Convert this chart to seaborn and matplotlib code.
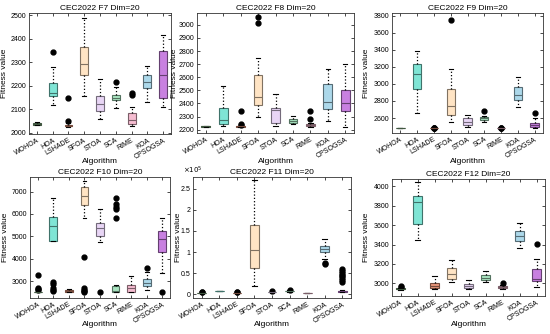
import matplotlib
matplotlib.use("Agg")
import matplotlib.pyplot as plt
import seaborn as sns
import pandas as pd
from matplotlib.colors import to_rgb
from matplotlib.ticker import FuncFormatter

plt.rcParams['font.family'] = ['Liberation Sans', 'DejaVu Sans']

algorithms = ['WOHOA', 'HOA', 'LSHADE', 'SFOA', 'STOA', 'SCA', 'RIME', 'KOA', 'CPSOGSA']
box_colors = ['#7fae7f', '#7fe5d5', '#e9967a', '#ffe4c4', '#e8d5f5',
              '#a8e4c0', '#f5bcd0', '#acd8ea', '#c880e0']

# run results per algorithm (same order as algorithms)
f7 = [
    [2032, 2034, 2035, 2037, 2038, 2040, 2042, 2043, 2045],
    [2120, 2140, 2155, 2162, 2170, 2190, 2210, 2280, 2345],
    [2025, 2026, 2027, 2028, 2029, 2029, 2030, 2032, 2033, 2035, 2040, 2050, 2148],
    [2155, 2200, 2245, 2270, 2292, 2330, 2365, 2420, 2490],
    [2060, 2075, 2092, 2110, 2122, 2140, 2155, 2190, 2228],
    [2105, 2125, 2138, 2145, 2150, 2156, 2163, 2195, 2218],
    [2028, 2033, 2036, 2038, 2045, 2050, 2055, 2065, 2075, 2085, 2108, 2163, 2170],
    [2132, 2170, 2192, 2205, 2215, 2230, 2245, 2265, 2285],
    [2108, 2125, 2148, 2200, 2245, 2300, 2348, 2380, 2415],
]
f8 = [
    [2221, 2222, 2223, 2224, 2225, 2226, 2227, 2228, 2229],
    [2232, 2236, 2240, 2255, 2272, 2320, 2365, 2450, 2530],
    [2219, 2220, 2220, 2221, 2222, 2222, 2223, 2224, 2225, 2226, 2226, 2227, 2228,
     2230, 2238, 2246, 2342],
    [2295, 2330, 2360, 2385, 2410, 2430, 2452, 2500, 2560, 2620, 2750, 3010, 3060],
    [2230, 2240, 2250, 2300, 2350, 2356, 2362, 2420, 2475],
    [2240, 2248, 2255, 2262, 2268, 2275, 2282, 2295, 2305],
    [2222, 2225, 2226, 2228, 2230, 2233, 2235, 2237, 2240, 2242, 2248, 2285, 2345],
    [2265, 2320, 2355, 2380, 2410, 2480, 2545, 2600, 2660],
    [2222, 2290, 2340, 2370, 2405, 2450, 2500, 2600, 2700],
]
f9 = [
    [2480.76, 2480.77, 2480.78, 2480.79, 2480.8, 2480.81, 2480.82, 2480.83, 2480.84],
    [2660, 2800, 2940, 3040, 3115, 3180, 3230, 3300, 3385],
    [2480.7, 2480.7, 2480.8, 2480.8, 2480.8, 2480.8, 2480.8, 2483, 2486],
    [2548, 2600, 2640, 2690, 2740, 2850, 2945, 3170, 3745],
    [2490, 2505, 2520, 2540, 2555, 2580, 2600, 2620, 2640],
    [2555, 2570, 2580, 2590, 2598, 2605, 2615, 2625, 2685],
    [2480.7, 2480.8, 2480.8, 2480.8, 2480.8, 2480.8, 2480.8, 2480.9, 2484],
    [2735, 2780, 2815, 2840, 2865, 2910, 2960, 3020, 3075],
    [2485, 2490, 2495, 2505, 2520, 2530, 2545, 2605, 2655],
]
f10 = [
    [2500.3, 2500.3, 2500.4, 2500.4, 2500.5, 2500.5, 2500.6, 2500.7, 2500.8, 2501, 2501,
     2501, 2502, 2620, 2660, 2710, 3270],
    [2560, 2620, 2680, 2880, 2960, 4780, 4800, 4900, 5050, 5200, 5300, 5400, 5470,
     5550, 5650, 5750, 5800, 5850, 5870, 5950, 6100, 6250, 6400, 6550, 6700],
    [2500, 2510, 2520, 2540, 2555, 2570, 2590, 2620, 2650],
    [2520, 2560, 2620, 2700, 4100, 5800, 6380, 6450, 6520, 6600, 6680, 6730, 6780,
     6850, 6950, 7050, 7120, 7180, 7200, 7250, 7300, 7350, 7400, 7430, 7450],
    [2520, 4750, 5030, 5200, 5380, 5500, 5580, 5900, 6230],
    [2500, 2501, 2502, 2503, 2504, 2505, 2506, 2510, 2515, 2520, 2530, 2540, 2560,
     2600, 2650, 2700, 2750, 2780, 2800, 2810, 5800, 6200, 6300, 6450, 6700],
    [2500, 2520, 2540, 2620, 2700, 2780, 2850, 3050, 3250],
    [2600, 2700, 2800, 2870, 2920, 3000, 3080, 3400, 3600],
    [2520, 3350, 4300, 4600, 4900, 5100, 5250, 5500, 5800],
]
f11 = [
    [2900, 2930, 2950, 2980, 3000, 3100, 3300, 4500, 5200],
    [6500, 6800, 7000, 7200, 7400, 7600, 7800, 8000, 8300],
    [2800, 2850, 2900, 2950, 3000, 3100, 3200, 4300, 5000],
    [19000, 40000, 62000, 85000, 104000, 130000, 165000, 220000, 272000],
    [3200, 3800, 4200, 4600, 4900, 5200, 5600, 7200, 8200],
    [5500, 6000, 6500, 7000, 7300, 7600, 8000, 9000, 11000],
    [2900, 2920, 2940, 2950, 2960, 2970, 2980, 3000, 3020],
    [72000, 74000, 83000, 100000, 103000, 106000, 108000, 110000, 112000, 115000,
     120000, 125000, 130000],
    [4200, 4400, 4500, 4600, 4700, 4800, 4850, 4900, 4950, 5000, 5100, 5200, 5300,
     5400, 5500, 5600, 5700, 5800, 6500, 6700, 6900, 7000, 7200, 7400, 7600, 7800,
     7900, 8000, 9000, 30000, 34000, 38000, 42000, 46000, 50000, 55000, 59000],
]
f12 = [
    [2936, 2938, 2940, 2941, 2943, 2945, 2946, 2947, 2948, 2950, 2952, 2966, 2975],
    [3445, 3520, 3610, 3720, 3835, 3870, 3900, 3980, 4040],
    [2940, 2945, 2950, 2962, 2975, 2988, 3000, 3040, 3072],
    [3010, 3030, 3050, 3075, 3100, 3130, 3160, 3200, 3245],
    [2940, 2945, 2950, 2960, 2968, 2980, 2995, 3015, 3030],
    [3015, 3025, 3035, 3048, 3060, 3075, 3090, 3110, 3130],
    [2945, 2950, 2955, 2958, 2962, 2966, 2970, 2980, 3000],
    [3360, 3400, 3435, 3460, 3490, 3515, 3535, 3580, 3620],
    [2965, 2990, 3005, 3020, 3030, 3040, 3050, 3080, 3110, 3150, 3200, 3250, 3405],
]

titles = ['CEC2022 F7 Dim=20', 'CEC2022 F8 Dim=20', 'CEC2022 F9 Dim=20',
          'CEC2022 F10 Dim=20', 'CEC2022 F11 Dim=20', 'CEC2022 F12 Dim=20']
y_limits = [(1995, 2510), (2175, 3090), (2425, 3830),
            (2250, 7650), (-9000, 278000), (2870, 4075)]
y_ticks = [
    [2000, 2100, 2200, 2300, 2400, 2500],
    [2200, 2300, 2400, 2500, 2600, 2700, 2800, 2900, 3000],
    [2600, 2800, 3000, 3200, 3400, 3600, 3800],
    [3000, 4000, 5000, 6000, 7000],
    [0, 50000, 100000, 150000, 200000, 250000],
    [3000, 3200, 3400, 3600, 3800, 4000],
]
# axes boxes in pixels: left, right, top, bottom, x of the y label, top of the x label
panel_px = [(29, 171, 13, 134, 8, 158), (197, 354, 13, 133, 178, 158),
            (392, 543, 13, 133, 370, 158), (30, 170, 177, 298, 9, 321),
            (193, 351, 177, 298, 182, 321), (392, 545, 179, 296, 370, 321)]

W, H = 550, 334
fig = plt.figure(figsize=(W / 100, H / 100), dpi=100)

for runs, title, ylim, ticks, (l, r, t, b, lx, ly) in zip([f7, f8, f9, f10, f11, f12], titles,
                                                          y_limits, y_ticks, panel_px):
    ax = fig.add_axes([l / W, 1 - b / H, (r - l) / W, (b - t) / H])
    df = pd.DataFrame({
        'Algorithm': [a for a, vals in zip(algorithms, runs) for _ in vals],
        'value': [v for vals in runs for v in vals],
    })
    for alg, face in zip(algorithms, box_colors):
        dark = tuple(c * 0.5 for c in to_rgb(face))
        sns.boxplot(data=df[df['Algorithm'] == alg], x='Algorithm', y='value',
                    order=algorithms, color=face, saturation=1, width=0.5,
                    linecolor=dark, linewidth=0.8,
                    whiskerprops=dict(color='k', linestyle=':', linewidth=0.9),
                    capprops=dict(color='k', linewidth=0.8),
                    medianprops=dict(color=dark, linewidth=0.8),
                    flierprops=dict(marker='o', markerfacecolor='k',
                                    markeredgecolor='k', markersize=3.5),
                    ax=ax)

    ax.set_xlim(-0.5, 8.5)
    ax.set_ylim(*ylim)
    ax.set_yticks(ticks)
    ax.set_title(title, fontsize=6, pad=2)
    ax.set_xlabel('Algorithm', fontsize=6)
    ax.xaxis.set_label_coords(0.5, -(ly - b) / (b - t))
    ax.set_ylabel('Fitness value', fontsize=6)
    ax.yaxis.set_label_coords((lx - l) / (r - l), 0.5)
    ax.set_xticks(range(len(algorithms)))
    ax.set_xticklabels(algorithms, rotation=30, ha='right', rotation_mode='anchor')
    ax.tick_params(direction='in', length=2, width=0.5, labelsize=5, pad=2,
                   top=True, right=True)
    for sp in ax.spines.values():
        sp.set_linewidth(0.6)
        sp.set_color('#333333')
    if title.endswith('F11 Dim=20'):
        ax.yaxis.set_major_formatter(FuncFormatter(lambda v, _: f'{v / 1e5:g}'))
        ax.text(0.0, 1.01, r'$\times10^5$', transform=ax.transAxes,
                fontsize=5, ha='center', va='bottom')

fig.savefig('out.png', dpi=100)
